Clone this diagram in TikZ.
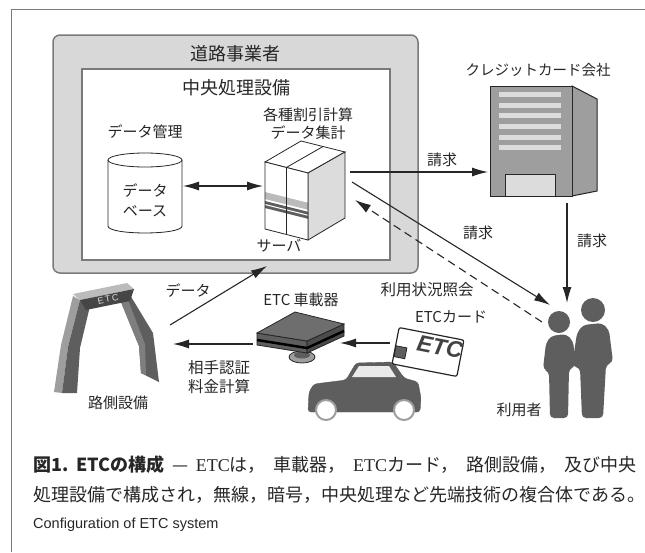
\documentclass[tikz,border=0pt]{standalone}
\usepackage{fontspec}
\usepackage{tikz}
\usetikzlibrary{arrows.meta,positioning,calc}
\setmainfont{Noto Sans CJK JP}
\newfontfamily\latinsans{Liberation Sans}
\newfontfamily\latinserif{Liberation Serif}
\definecolor{EtcFrame}{HTML}{7A7A7A}
\definecolor{EtcPanel}{HTML}{D8D8D8}
\definecolor{EtcDark}{HTML}{5E5E5E}
\definecolor{EtcMid}{HTML}{9E9E9E}
\definecolor{EtcLight}{HTML}{DCDCDC}
\definecolor{EtcInk}{HTML}{262626}

\begin{document}
\begin{tikzpicture}[x=1pt, y=-1pt,
  lbl/.style={font=\fontsize{15}{19}\selectfont, text=EtcInk, inner sep=0pt, align=center},
  boxtitle/.style={font=\fontsize{18}{22}\selectfont, text=EtcInk, inner sep=0pt},
  capline/.style={font=\fontsize{18}{22}\selectfont, text=EtcInk, inner sep=0pt, anchor=west},
  flow/.style={-{Latex[length=16pt,width=9pt]}, line width=1.1pt, draw=EtcInk},
  dualflow/.style={flow, {Latex[length=16pt,width=9pt]}-{Latex[length=16pt,width=9pt]}},
  queryflow/.style={flow, dash pattern=on 8pt off 5pt},
  part/.style={draw=EtcInk, line width=0.8pt}]
  \useasboundingbox (0,0) rectangle (645,552);

  % figure frame (top and left rule only)
  \draw[EtcFrame, line width=1.5pt] (11.5,552) -- (11.5,9.5) -- (645,9.5);

  % road operator and central processing
  \node[draw=EtcFrame, fill=EtcPanel, line width=1.5pt, rounded corners=7pt,
    minimum width=365pt, minimum height=238pt] (operator) at (235.5,154) {};
  \node[draw=EtcFrame, fill=white, line width=1.5pt,
    minimum width=308pt, minimum height=191pt] (hub) at (236,164.5) {};
  \node[boxtitle] (operatortitle) at (235,54) {道路事業者};
  \node[boxtitle] (hubtitle) at (236,88) {中央処理設備};

  % database
  \filldraw[part, fill=white] (108,160) -- (108,226)
    .. controls (108,235.3) and (182,235.3) .. (182,226) -- (182,160);
  \draw[part] (145,160) ellipse[x radius=37, y radius=7];
  \node[lbl] (dbtitle) at (145,132) {データ管理};
  \node[lbl, font=\fontsize{15}{20}\selectfont] (dbtext) at (145,200) {データ\\ベース};

  % server
  \filldraw[part, fill=white] (265,162) -- (301,141) -- (345,152) -- (308,173) -- cycle;
  \filldraw[part, fill=EtcLight] (308,173) -- (345,152) -- (345,218) -- (308,240) -- cycle;
  \fill[white] (265,162) -- (308,173) -- (308,240) -- (265,229) -- cycle;
  \fill[EtcMid!70!white] (265,192) -- (308,202.75) -- (308,209.75) -- (265,199) -- cycle;
  \fill[EtcDark] (265,201) -- (308,211.75) -- (308,218.75) -- (265,208) -- cycle;
  \draw[white, line width=1pt] (265,204.5) -- (308,215.25);
  \draw[part] (265,162) -- (308,173) -- (308,240) -- (265,229) -- cycle;
  \draw[part] (286.5,167.4) -- (286.5,234.4);
  \draw[part] (286.5,167.4) -- (323,146.5);
  \node[lbl, font=\fontsize{15}{18}\selectfont] (srvtitle) at (308,124) {各種割引計算\\データ集計};
  \node[lbl] (srvname) at (279,246) {サーバ};

  % credit card company
  \filldraw[part, line width=1pt, fill=EtcMid] (572,86) -- (597,99) -- (597,191) -- (572,196) -- cycle;
  \filldraw[part, line width=1pt, fill=EtcMid] (490,86) rectangle (572,196);
  \foreach \y in {92,103,113,124,135,145}
    \fill[EtcLight] (499,\y) rectangle (561,{\y+5});
  \filldraw[part, fill=EtcLight] (505,174) rectangle (555,196);
  \node[lbl, font=\fontsize{14.5}{18}\selectfont] (cardco) at (538,70) {クレジットカード会社};

  % roadside gate
  \fill[EtcMid] (73,296) -- (61,345) -- (54,392) -- (62,393) -- (68,347) -- (80,300) -- cycle;
  \fill[EtcDark] (80,300) -- (68,347) -- (62,393) -- (77,393) -- (80,348) -- (90,306) -- cycle;
  \fill[EtcDark] (127,290) -- (153,333) -- (159,382) -- (141,373) -- (139,346) -- (121,302) -- cycle;
  \fill[EtcMid!80!black] (121,302) -- (139,346) -- (141,373) -- (146,375) -- (145,344) -- (128,300) -- cycle;
  \fill[EtcLight!85!black] (73,294) -- (127,283) -- (134,289) -- (80,300) -- cycle;
  \fill[EtcDark!75!black] (80,300) -- (134,289) -- (130,301) -- (86,310) -- cycle;
  \node[font=\latinsans\fontsize{9}{9}\selectfont, text=EtcLight, rotate=11] (gatesign) at (108,299) {E\,T\,C};
  \node[lbl] (gate) at (118,403) {路側設備};

  % on-board unit
  \filldraw[part, fill=EtcMid] (302,357) ellipse[x radius=13, y radius=6];
  \fill[EtcDark] (302,355) ellipse[x radius=8, y radius=3.5];
  \filldraw[part, fill=EtcDark] (257,333) -- (307,341) -- (307,353) -- (257,345) -- cycle;
  \filldraw[part, fill=EtcDark!80!black] (307,341) -- (344,324) -- (344,336) -- (307,353) -- cycle;
  \draw[black, line width=2.5pt] (257,340) -- (307,348) -- (344,331);
  \filldraw[part, fill=EtcDark!90!white] (257,333) -- (295,312) -- (344,324) -- (307,341) -- cycle;
  \node[lbl] (obu) at (301,300) {ETC 車載器};

  % car
  \filldraw[fill=EtcDark, draw=EtcDark, rounded corners=3pt] (308,412) -- (309,392) -- (314,384)
    -- (346,380) -- (356,363) -- (393,362) -- (404,378) -- (418,382) -- (421,398) -- (420,412) -- cycle;
  \fill[EtcLight!60!white] (352,377) -- (359,366) -- (389,366) -- (396,377) -- cycle;
  \filldraw[fill=white, draw=EtcMid, line width=2pt] (326,410) circle[radius=10];
  \filldraw[fill=white, draw=EtcMid, line width=2pt] (404,410) circle[radius=10];

  % ETC card
  \begin{scope}[shift={(428,352)}, rotate=-11]
    \filldraw[draw=EtcInk, fill=white, line width=1.2pt, rounded corners=2pt] (-33,-18.5) rectangle (33,18.5);
    \filldraw[draw=EtcInk, fill=EtcDark, line width=0.8pt] (-32.5,0) rectangle (-21.5,11);
  \end{scope}
  \node[font=\latinsans\bfseries\itshape\fontsize{23}{23}\selectfont, text=EtcDark!70!black,
    rotate=-11, inner sep=0pt] (cardlogo) at (440,347) {ETC};
  \node[lbl] (cardname) at (451,317) {ETCカード};

  % users
  \fill[EtcDark] (559,322) circle[radius=11];
  \fill[EtcDark, rounded corners=4pt] (543,369) -- (546,343) -- (551,336) -- (566,334) -- (573,341)
    -- (576,366) -- (569,369) -- (568,418) -- (550,418) -- (549,372) -- cycle;
  \fill[EtcDark] (593,310) circle[radius=12];
  \fill[EtcDark, rounded corners=4pt] (572,366) -- (577,333) -- (583,325) -- (602,323) -- (609,330)
    -- (613,362) -- (606,365) -- (603,418) -- (582,418) -- (580,368) -- cycle;
  \node[lbl] (users) at (519,410) {利用者};

  % connector ends
  \coordinate (db-r) at (183,186);
  \coordinate (srv-l) at (263,186);
  \coordinate (srv-out) at (350,172);
  \coordinate (srv-bill) at (352,182);
  \coordinate (srv-in) at (355,200);
  \coordinate (bank-l) at (488,172);
  \coordinate (bank-b) at (567,203);
  \coordinate (users-t) at (567,303);
  \coordinate (users-l) at (550,305);
  \coordinate (users-q) at (542,322);
  \coordinate (gate-up) at (170,325);
  \coordinate (hub-low) at (267,266);
  \coordinate (obu-l) at (253,344);
  \coordinate (gate-r) at (173,344);
  \coordinate (card-l) at (390,343);
  \coordinate (obu-r) at (340,343);

  % flows
  \draw[dualflow] (db-r) -- (srv-l);
  \draw[flow] (srv-out) -- (bank-l);
  \node[lbl] (bill1) at (442,160) {請求};
  \draw[flow] (srv-bill) -- (users-l);
  \node[lbl] (bill2) at (478,233) {請求};
  \draw[queryflow] (users-q) -- (srv-in);
  \node[lbl, font=\fontsize{15.5}{19}\selectfont] (query) at (427,290) {利用状況照会};
  \draw[flow] (bank-b) -- (users-t);
  \node[lbl] (bill3) at (592,241) {請求};
  \draw[flow] (gate-up) -- (hub-low);
  \node[lbl] (upload) at (188,291) {データ};
  \draw[flow] (obu-l) -- (gate-r);
  \node[lbl, font=\fontsize{15.5}{19}\selectfont] (auth) at (219,377) {相手認証\\料金計算};
  \draw[flow] (card-l) -- (obu-r);

  % caption
  \node[capline] (cap1) at (33,465) {\makebox[603pt][l]{{\bfseries 図1.\hfill ETCの構成}\hfill—\hfill
    {\latinserif ETC}は，\hfill 車載器，\hfill{\latinserif ETC}カード，\hfill 路側設備，\hfill 及び中央}};
  \node[capline] (cap2) at (33,495) {処理設備で構成され，無線，暗号，中央処理など先端技術の複合体である。};
  \node[capline, font=\latinsans\fontsize{14.5}{17}\selectfont] (cap3) at (33,525) {Configuration of ETC system};
\end{tikzpicture}
\end{document}
